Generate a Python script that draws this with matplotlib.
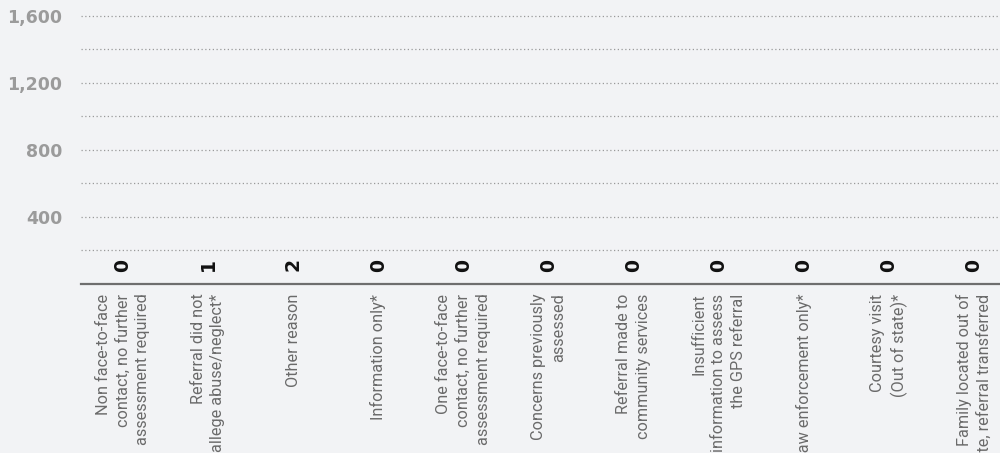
import matplotlib
matplotlib.use("Agg")
import matplotlib.pyplot as plt
import numpy as np

categories = [
    "Non face-to-face\ncontact, no further\nassessment required",
    "Referral did not\nallege abuse/neglect*",
    "Other reason",
    "Information only*",
    "One face-to-face\ncontact, no further\nassessment required",
    "Concerns previously\nassessed",
    "Referral made to\ncommunity services",
    "Insufficient\ninformation to assess\nthe GPS referral",
    "Law enforcement only*",
    "Courtesy visit\n(Out of state)*",
    "Family located out of\nstate, referral transferred",
]
values = [0, 1, 2, 0, 0, 0, 0, 0, 0, 0, 0]
y_ticks = [400, 800, 1200, 1600]
y_tick_labels = ["400", "800", "1,200", "1,600"]
grid_levels = [200, 400, 600, 800, 1000, 1200, 1400, 1600]

BG = "#f2f3f5"
W, H = 1000, 453
fig = plt.figure(figsize=(W / 100, H / 100), dpi=100, facecolor=BG)
ax_left, ax_bottom_px = 80.5, 284
ax = fig.add_axes([ax_left / W, (H - ax_bottom_px) / H, 936 / W, ax_bottom_px / H])
ax.set_facecolor(BG)

x = np.arange(len(categories))
ax.bar(x, values, width=0.6, color="#2a6f97", zorder=2)

ax.set_xlim(-0.5, len(categories) - 0.5)
ax.set_ylim(0, 1695)

for g in grid_levels:
    ax.axhline(g, color="#9a9a9a", linewidth=0.9, linestyle=(0, (1, 2)), zorder=1)
ax.axhline(0, color="#6e6e6e", linewidth=1.6, zorder=3, clip_on=False)

for s in ax.spines.values():
    s.set_visible(False)

ax.set_yticks(y_ticks)
ax.set_yticklabels(y_tick_labels, fontfamily="DejaVu Sans", fontweight="bold",
                   fontsize=12.5, color="#9b9b9b")
ax.tick_params(axis="y", length=0, pad=13)

ax.set_xticks(x)
ax.set_xticklabels(categories, rotation=90, fontfamily="Roboto", fontsize=11.7,
                   color="#6a6a6a", linespacing=1.38)
for lab in ax.get_xticklabels():
    lab.set_multialignment("right")
ax.tick_params(axis="x", length=0, pad=7)

for xi, v in zip(x, values):
    ax.annotate(f"{v:,}", (xi, v), xytext=(0, 9), textcoords="offset points",
                ha="center", va="bottom", rotation=90, fontfamily="DejaVu Sans",
                fontweight="bold", fontsize=13.5, color="#111111")

fig.savefig("out.png", dpi=100, facecolor=BG)
